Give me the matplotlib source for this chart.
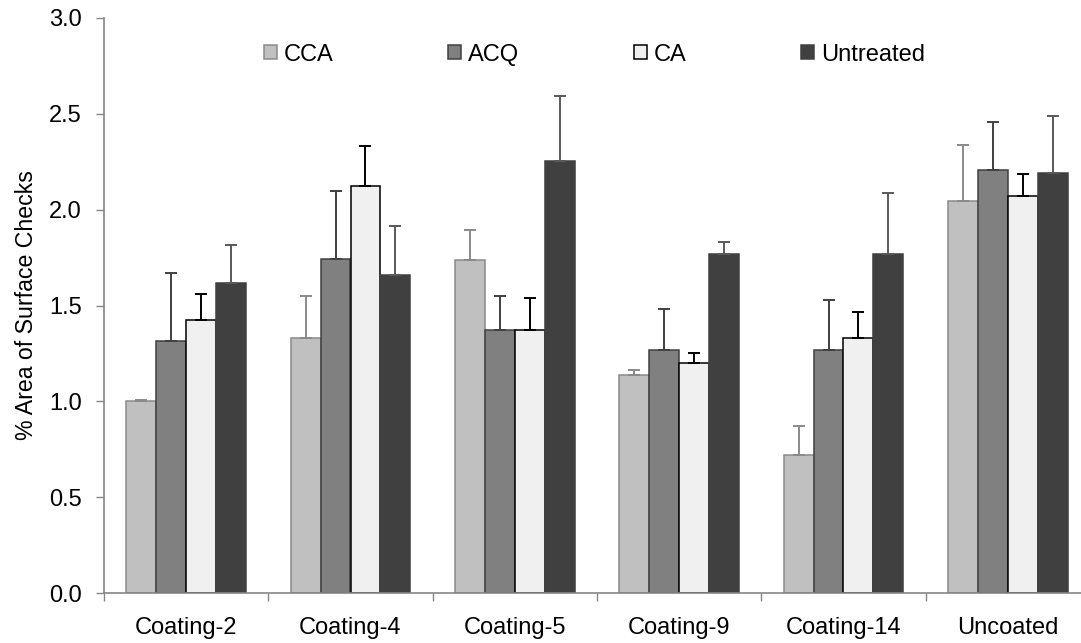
import numpy as np
import matplotlib
matplotlib.use("Agg")
import matplotlib.pyplot as plt

plt.rcParams['font.family'] = ['Liberation Sans', 'DejaVu Sans']

groups = ["Coating-2", "Coating-4", "Coating-5", "Coating-9", "Coating-14", "Uncoated"]
series = ["CCA", "ACQ", "CA", "Untreated"]

# mean values per series
cca = [1.00, 1.33, 1.735, 1.135, 0.72, 2.045]
acq = [1.315, 1.745, 1.37, 1.27, 1.27, 2.205]
ca = [1.425, 2.125, 1.37, 1.20, 1.33, 2.07]
untreated = [1.62, 1.66, 2.255, 1.77, 1.77, 2.19]

# upper error (std) per series
cca_err = [0.008, 0.22, 0.16, 0.03, 0.15, 0.29]
acq_err = [0.355, 0.35, 0.18, 0.21, 0.26, 0.25]
ca_err = [0.135, 0.205, 0.17, 0.05, 0.135, 0.115]
untreated_err = [0.195, 0.255, 0.34, 0.06, 0.315, 0.30]

values = [cca, acq, ca, untreated]
errors = [cca_err, acq_err, ca_err, untreated_err]
faces = ["#c0c0c0", "#808080", "#f0f0f0", "#404040"]
edges = ["#8a8a8a", "#404040", "#000000", "#404040"]
ecols = ["#8a8a8a", "#404040", "#000000", "#595959"]

fig = plt.figure(figsize=(10.81, 6.43), dpi=100)
ax = fig.add_axes([104 / 1081, 50 / 643, 986 / 1081, 575 / 643])

x = np.arange(len(groups))
w = 0.182
for i, name in enumerate(series):
    pos = x + (i - 1.5) * w
    err = np.array(errors[i])
    ax.bar(pos, values[i], width=w, color=faces[i], edgecolor=edges[i],
           linewidth=1.1, label=name, zorder=2)
    ax.errorbar(pos, values[i], yerr=[np.zeros_like(err), err], fmt='none',
                ecolor=ecols[i], elinewidth=1.4, capsize=4, capthick=1.4, zorder=3)

ax.set_xlim(-0.5, len(groups) - 0.5)
ax.set_ylim(0, 3.0)
ax.set_yticks(np.arange(0, 3.01, 0.5))
ax.set_yticklabels([f"{v:.1f}" for v in np.arange(0, 3.01, 0.5)])
ax.set_xticks(x)
ax.set_xticklabels(groups)
ax.set_xticks(np.arange(-0.5, len(groups), 1.0), minor=True)
ax.tick_params(axis='x', which='major', length=0, pad=17, labelsize=17)
ax.tick_params(axis='x', which='minor', length=6, color='#868686', width=1)
ax.tick_params(axis='y', length=6, color='#868686', width=1, pad=10, labelsize=17)

for s in ['top', 'right']:
    ax.spines[s].set_visible(False)
for s in ['left', 'bottom']:
    ax.spines[s].set_color('#868686')
    ax.spines[s].set_linewidth(1.2)

ax.set_ylabel("% Area of Surface Checks", fontsize=16.7, labelpad=8)

leg = fig.legend(loc='center', bbox_to_anchor=(0.55, 0.915), ncol=4,
                 frameon=False, fontsize=17, handlelength=0.55, handleheight=0.55,
                 handletextpad=0.3, columnspacing=4.85)

fig.savefig("out.png", dpi=100)
